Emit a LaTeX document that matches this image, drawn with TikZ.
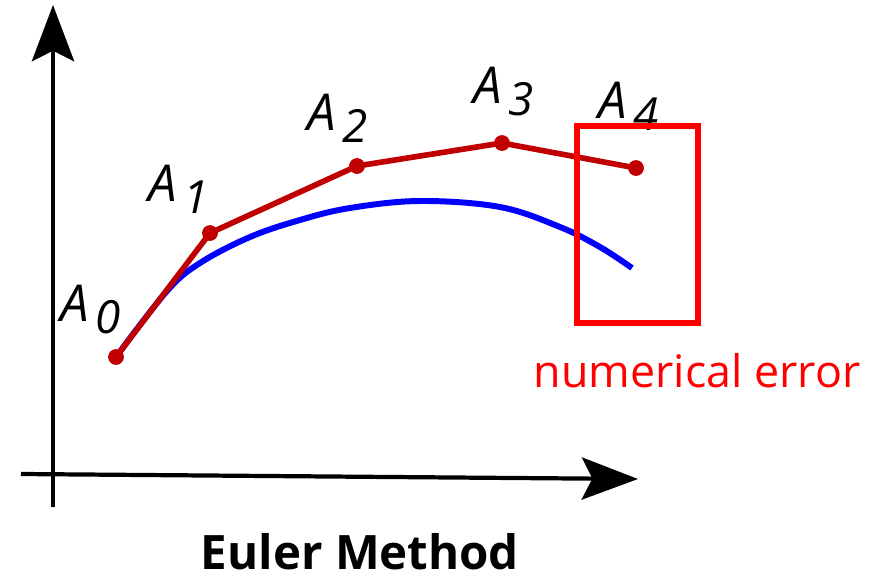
\documentclass[tikz,border=0pt]{standalone}
\usepackage{fontspec}
\setmainfont{Open Sans}
\usepackage{xcolor}
\usetikzlibrary{arrows.meta}
\definecolor{stepred}{RGB}{192,0,0}
\definecolor{exactblue}{RGB}{0,0,255}
\definecolor{errred}{RGB}{255,0,0}
\newcommand{\apt}[1]{{\fontsize{29}{29}\selectfont\itshape A\kern4pt\raisebox{-7pt}{\fontsize{26}{26}\selectfont #1}}}
\newcommand{\estep}[5]{% name, x, y, index, label corner
  \coordinate (#1) at (#2,#3);
  \node[anchor=base west,inner sep=0pt] (#1lab) at #5 {\apt{#4}};}

\begin{document}
\begin{tikzpicture}[x=0.02cm,y=-0.02cm,
  axis/.style={line width=2.4pt,-{Stealth[length=32pt,width=24pt,inset=6pt]}},
  euler/.style={stepred,line width=3.2pt,line join=round},
  exact/.style={exactblue,line width=3.4pt},
  errbox/.style={errred,line width=3.2pt}]
  \useasboundingbox (0,0) rectangle (894,579);
  % axes
  \coordinate (ybot) at (53,507);
  \coordinate (ytop) at (53,5);
  \coordinate (xleft) at (21,474);
  \coordinate (xright) at (638,479);
  \draw[axis] (ybot) -- (ytop);
  \draw[axis] (xleft) -- (xright);
  % exact solution
  \draw[exact] plot[smooth,tension=0.6] coordinates {(116,357) (167,291) (200,263)
    (250,237) (300,220) (350,208) (420,201) (500,207) (560,227) (600,247) (632,268)};
  % euler steps
  \estep{A0}{116}{357}{0}{(60,321)}
  \estep{A1}{210}{233}{1}{(148,201)}
  \estep{A2}{357}{166}{2}{(307,130)}
  \estep{A3}{502}{143}{3}{(473,103)}
  \estep{A4}{636}{168}{4}{(598,118)}
  \draw[euler] (A0) -- (A1) -- (A2) -- (A3) -- (A4);
  \foreach \p in {A0,A1,A2,A3,A4}
    \fill[stepred] (\p) circle (4.5pt);
  % error window
  \draw[errbox] (577,126) rectangle (698,323);
  \node[errred,anchor=base,inner sep=0pt,font=\fontsize{25.5}{25.5}\selectfont] (errtext) at (697,387) {numerical error};
  \node[anchor=base,inner sep=0pt,font=\fontsize{27}{27}\selectfont\bfseries] (title) at (360,569) {Euler Method};
\end{tikzpicture}
\end{document}
